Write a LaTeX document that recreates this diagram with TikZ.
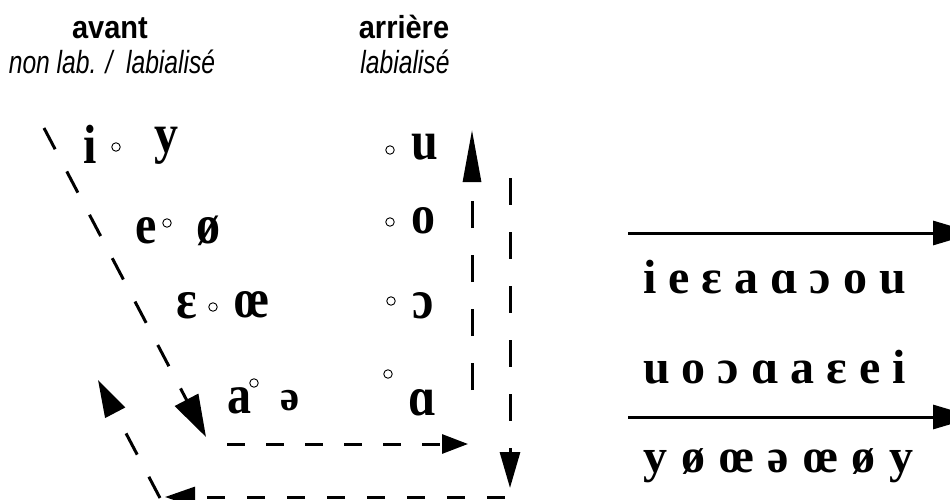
\documentclass[tikz,border=0pt]{standalone}
\usepackage{fontspec}
\setmainfont{Liberation Serif}
\newfontfamily\hdfont{Liberation Sans}
\usetikzlibrary{arrows.meta}
\newcommand{\tallv}[1]{\scalebox{1}[1.15]{#1}}
\newcommand{\tallh}[1]{\scalebox{1}[1.1]{#1}}
\newcommand{\narh}[1]{\scalebox{0.77}[1]{#1}}
\newcommand{\wsp}{\hspace{14pt}}
\begin{document}
\begin{tikzpicture}[x=1pt,y=-1pt,
  vow/.style={font=\fontsize{48}{48}\selectfont\bfseries, inner sep=0pt, anchor=base},
  smallvow/.style={font=\fontsize{43}{43}\selectfont\bfseries, inner sep=0pt, anchor=base},
  rowtxt/.style={font=\fontsize{48}{48}\selectfont\bfseries, inner sep=0pt, anchor=base west},
  ring/.style={circle, draw, line width=0.9pt, minimum size=8.5pt, inner sep=0pt},
  hdb/.style={font=\hdfont\fontsize{29}{29}\selectfont\bfseries, inner sep=0pt, anchor=base},
  hdi/.style={font=\hdfont\fontsize{32}{32}\selectfont\itshape, inner sep=0pt, anchor=base},
  dsh/.style={line width=3pt, dash pattern=on 24pt off 25pt},
  vdsh/.style={line width=3pt, dash pattern=on 27pt off 27pt},
  hdsh/.style={line width=3pt, dash pattern=on 18pt off 21pt},
  solidarrow/.style={line width=3pt, -{Triangle[length=42pt,width=24pt]}}
]
\useasboundingbox (0,0) rectangle (950,500);
\clip (0,0) rectangle (950,500);
\fill[white] (0,0) rectangle (950,500);

% headers
\node[hdb] (avant) at (110,39) {\tallh{avant}};
\node[hdi] (nonlab) at (112,74) {\narh{non lab. / \ labialisé}};
\node[hdb] (arriere) at (404,39) {\tallh{arrière}};
\node[hdi] (labial) at (405,74) {\narh{labialisé}};

% front vowels
\node[vow] (vi) at (90,163) {\tallv{i}};
\node[ring] (ci) at (116,147) {};
\node[vow] (vy) at (166,153) {\tallv{y}};
\node[vow] (ve) at (146,243) {\tallv{e}};
\node[ring] (ce) at (167,223) {};
\node[vow] (voe) at (208,243) {\tallv{ø}};
\node[vow] (veps) at (187,318) {\tallv{ɛ}};
\node[ring] (ceps) at (213,307) {};
\node[vow] (voelig) at (252,317) {\tallv{œ}};
\node[vow] (va) at (239,413) {\tallv{a}};
\node[ring] (ca) at (254,383) {};
\node[smallvow] (vschwa) at (290,410) {ə};

% back vowels
\node[ring] (cu) at (390,150) {};
\node[vow] (vu) at (425,160) {\tallv{u}};
\node[ring] (co) at (390,222) {};
\node[vow] (vo) at (423,233) {\tallv{o}};
\node[ring] (copen) at (391,301) {};
\node[vow] (vopen) at (423,318) {\tallv{ɔ}};
\node[ring] (calpha) at (388,374) {};
\node[vow] (valpha) at (422,415) {\tallv{ɑ}};

% dashed connectors
\coordinate (dA) at (44,128);
\coordinate (dB) at (206,437);
\draw[dsh, -{Triangle[length=42pt,width=26pt]}] (dA) -- (dB);

\coordinate (hA) at (227,444);
\coordinate (hB) at (468,444);
\draw[hdsh, -{Triangle[length=26pt,width=19pt]}] (hA) -- (hB);

\coordinate (vA) at (472,390);
\coordinate (vB) at (472,130);
\draw[vdsh, -{Triangle[length=52pt,width=18pt]}] (vA) -- (vB);

\coordinate (wA) at (510,178);
\coordinate (wB) at (510,488);
\draw[vdsh, -{Triangle[length=36pt,width=20pt]}] (wA) -- (wB);

\coordinate (bA) at (505,497);
\coordinate (bB) at (165,497);
\draw[hdsh, dash pattern=on 18pt off 22pt, -{Triangle[length=30pt,width=20pt]}] (bA) -- (bB);

\coordinate (uA) at (160,498);
\coordinate (uB) at (98,380);
\draw[dsh, -{Triangle[length=37pt,width=22pt]}] (uA) -- (uB);

% right side
\coordinate (r1A) at (628,233);
\coordinate (r1B) at (975,233);
\draw[solidarrow] (r1A) -- (r1B);
\node[rowtxt] (row1) at (643,293) {i e ɛ a ɑ ɔ o u};
\node[rowtxt] (row2) at (643,383) {u o ɔ ɑ a ɛ e i};
\coordinate (r2A) at (628,417);
\coordinate (r2B) at (975,417);
\draw[solidarrow] (r2A) -- (r2B);
\node[rowtxt] (row3) at (643,472) {y\wsp ø\wsp œ\wsp ə\wsp œ\wsp ø\wsp y};
\end{tikzpicture}
\end{document}
